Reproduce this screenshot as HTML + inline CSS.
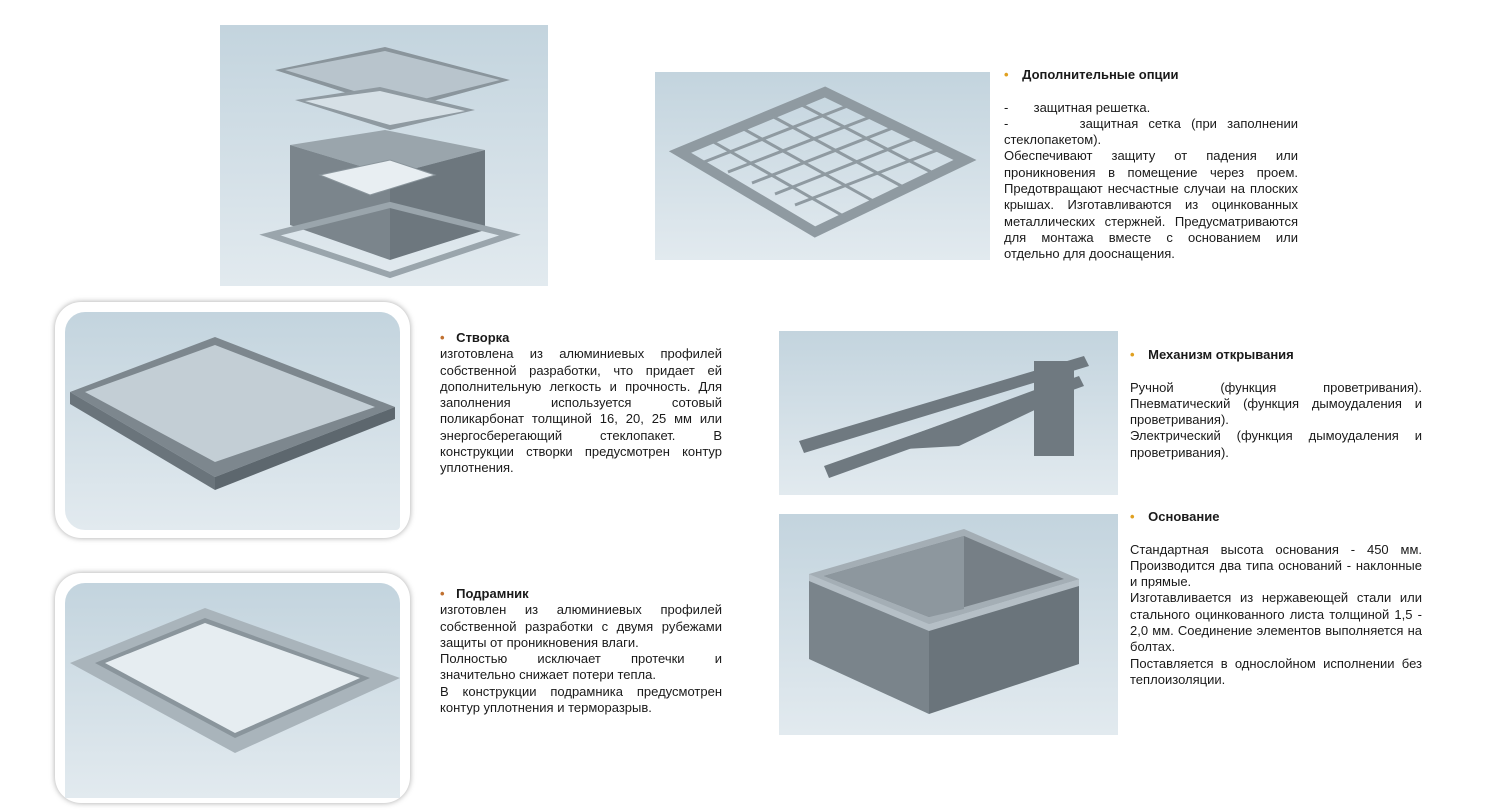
<!DOCTYPE html>
<html><head><meta charset="utf-8"><style>
body{margin:0;width:1490px;height:812px;background:#fff;position:relative;overflow:hidden;font-family:"Liberation Sans","DejaVu Sans",sans-serif;color:#1a1a1a}
.img{position:absolute;background:linear-gradient(180deg,#c3d4de,#e2eaef)}
.frame{position:absolute;background:#fff;border-radius:26px;box-shadow:0 0 6px rgba(0,0,0,.35)}
.t{position:absolute;font-size:13px;line-height:16.3px}
.t div{text-align:justify;text-align-last:justify;white-space:nowrap}
.t div.l{text-align-last:left}
.t .h{font-weight:bold;text-align-last:left}
.b{color:#e0a020;margin-right:10px}
.b2{color:#c07030;margin-right:8px}
svg{position:absolute;left:0;top:0}
</style></head><body>

<div class="img" style="left:220px;top:25px;width:328px;height:261px">
<svg width="328" height="261">
<polygon points="55,45 165,22 290,55 180,85" fill="#8a959c"/>
<polygon points="65,45 165,26 280,55 180,80" fill="#b8c4cc"/>
<polygon points="75,75 160,62 255,85 170,105" fill="#8f9aa1"/>
<polygon points="85,76 160,66 245,86 170,100" fill="#d6e0e6"/>
<polygon points="70,120 165,105 265,125 170,150" fill="#9aa5ac"/>
<polygon points="70,120 170,150 170,235 70,200" fill="#7b858c"/>
<polygon points="170,150 265,125 265,205 170,235" fill="#6d777e"/>
<polygon points="100,150 170,135 215,150 150,170" fill="#e8eef2" stroke="#8a959c"/>
<polygon points="50,210 170,250 290,210 170,180" fill="none" stroke="#9aa5ac" stroke-width="6"/>
</svg></div>

<div class="img" style="left:655px;top:72px;width:335px;height:188px">
<svg width="335" height="188">
<polygon points="25,80 170,20 310,88 160,160" fill="none" stroke="#8f9aa1" stroke-width="10"/>
<g stroke="#8f9aa1" stroke-width="3">
<line x1="49" y1="90" x2="195" y2="33"/><line x1="73" y1="100" x2="218" y2="44"/><line x1="97" y1="111" x2="240" y2="55"/><line x1="120" y1="122" x2="262" y2="66"/><line x1="140" y1="133" x2="285" y2="77"/>
<line x1="55" y1="68" x2="190" y2="145"/><line x1="85" y1="55" x2="220" y2="130"/><line x1="115" y1="43" x2="250" y2="116"/><line x1="143" y1="31" x2="280" y2="102"/>
</g></svg></div>

<div class="t" style="left:1004px;top:67px;width:294px">
<div class="h"><span class="b">•</span> Дополнительные опции</div>
<div class="l">&nbsp;</div>
<div class="l">-&nbsp;&nbsp;&nbsp;&nbsp;&nbsp;&nbsp;&nbsp;защитная решетка.</div>
<div>-&nbsp;&nbsp;&nbsp;&nbsp;&nbsp;&nbsp;&nbsp;защитная сетка (при заполнении</div>
<div class="l">стеклопакетом).</div>
<div>Обеспечивают защиту от падения или</div>
<div>проникновения в помещение через проем.</div>
<div>Предотвращают несчастные случаи на плоских</div>
<div>крышах. Изготавливаются из оцинкованных</div>
<div>металлических стержней. Предусматриваются</div>
<div>для монтажа вместе с основанием или</div>
<div class="l">отдельно для дооснащения.</div>
</div>

<div class="frame" style="left:55px;top:302px;width:355px;height:236px"></div>
<div class="img" style="left:65px;top:312px;width:335px;height:218px;border-radius:20px 20px 4px 20px">
<svg width="335" height="218">
<polygon points="5,80 150,25 330,95 150,165" fill="#7d878e"/>
<polygon points="20,80 150,33 310,95 150,150" fill="#c3ced5"/>
<polygon points="5,80 150,165 150,178 5,92" fill="#6a747b"/>
<polygon points="150,165 330,95 330,107 150,178" fill="#5d676e"/>
</svg></div>
<div class="t" style="left:440px;top:330px;width:282px">
<div class="h"><span class="b2">•</span> Створка</div>
<div>изготовлена из алюминиевых профилей</div>
<div>собственной разработки, что придает ей</div>
<div>дополнительную легкость и прочность. Для</div>
<div>заполнения используется сотовый</div>
<div>поликарбонат толщиной 16, 20, 25 мм или</div>
<div>энергосберегающий стеклопакет. В</div>
<div>конструкции створки предусмотрен контур</div>
<div class="l">уплотнения.</div>
</div>

<div class="frame" style="left:55px;top:573px;width:355px;height:230px"></div>
<div class="img" style="left:65px;top:583px;width:335px;height:215px;border-radius:20px 20px 0 0">
<svg width="335" height="215">
<polygon points="5,80 140,25 335,95 170,170" fill="#a9b4bb"/>
<polygon points="30,80 140,35 305,95 170,155" fill="#8a959c"/>
<polygon points="40,80 140,40 295,95 170,150" fill="#e6edf1"/>
</svg></div>
<div class="t" style="left:440px;top:586px;width:282px">
<div class="h"><span class="b2">•</span> Подрамник</div>
<div>изготовлен из алюминиевых профилей</div>
<div>собственной разработки с двумя рубежами</div>
<div class="l">защиты от проникновения влаги.</div>
<div>Полностью исключает протечки и</div>
<div class="l">значительно снижает потери тепла.</div>
<div>В конструкции подрамника предусмотрен</div>
<div class="l">контур уплотнения и терморазрыв.</div>
</div>

<div class="img" style="left:779px;top:331px;width:339px;height:164px">
<svg width="339" height="164">
<g fill="#6f7980">
<polygon points="20,110 305,25 310,35 25,122"/>
<polygon points="45,135 300,45 305,55 50,147"/>
<polygon points="90,120 280,50 285,65 180,115"/>
<rect x="255" y="30" width="40" height="95"/>
</g></svg></div>
<div class="t" style="left:1130px;top:347px;width:292px">
<div class="h"><span class="b">•</span> Механизм открывания</div>
<div class="l">&nbsp;</div>
<div>Ручной (функция проветривания).</div>
<div>Пневматический (функция дымоудаления и</div>
<div class="l">проветривания).</div>
<div>Электрический (функция дымоудаления и</div>
<div class="l">проветривания).</div>
</div>

<div class="img" style="left:779px;top:514px;width:339px;height:221px">
<svg width="339" height="221">
<polygon points="30,60 185,15 300,65 150,110" fill="#a4aeb5"/>
<polygon points="45,62 185,22 285,65 150,103" fill="#767f86"/>
<polygon points="45,62 185,22 185,95 150,103" fill="#8d979e"/>
<polygon points="30,60 150,110 150,200 30,145" fill="#7a848b"/>
<polygon points="150,110 300,65 300,150 150,200" fill="#6a747b"/>
<polygon points="30,60 150,110 300,65 300,72 150,117 30,67" fill="#b5bfc6"/>
</svg></div>
<div class="t" style="left:1130px;top:509px;width:292px">
<div class="h"><span class="b">•</span> Основание</div>
<div class="l">&nbsp;</div>
<div>Стандартная высота основания - 450 мм.</div>
<div>Производится два типа оснований - наклонные</div>
<div class="l">и прямые.</div>
<div>Изготавливается из нержавеющей стали или</div>
<div>стального оцинкованного листа толщиной 1,5 -</div>
<div>2,0 мм. Соединение элементов выполняется на</div>
<div class="l">болтах.</div>
<div>Поставляется в однослойном исполнении без</div>
<div class="l">теплоизоляции.</div>
</div>

</body></html>
